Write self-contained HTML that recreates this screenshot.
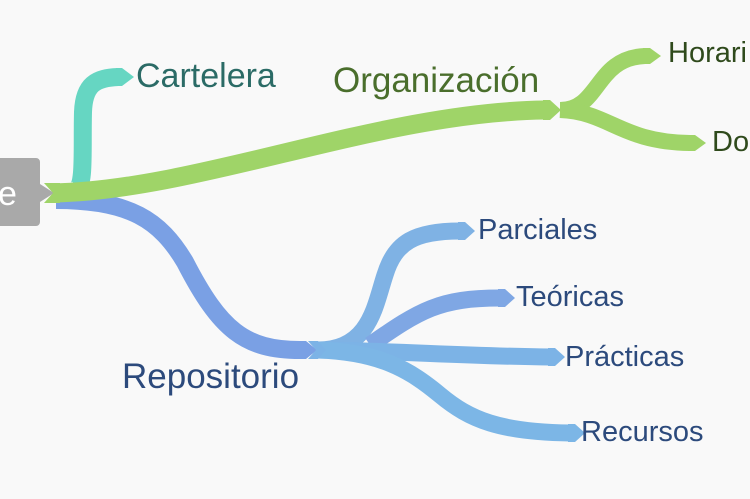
<!DOCTYPE html>
<html><head><style>
html,body{margin:0;padding:0;background:#f9f9f9;}
svg{display:block}
text{font-family:"Liberation Sans",sans-serif;}
</style></head><body>
<svg width="750" height="499" viewBox="0 0 750 499">
<rect width="750" height="499" fill="#f9f9f9"/>
<!-- root -->
<path d="M0,158 H36 a4,4 0 0 1 4,4 V184 L54,193 L40,202 V222 a4,4 0 0 1 -4,4 H0 Z" fill="#a9a9a9"/>
<text x="-2" y="205" font-size="34" fill="#fff">e</text>
<!-- Cartelera -->
<path d="M76,190 C85,186 82,150 83,112 C84,84 96,78 118,77" fill="none" stroke="#66d6c2" stroke-width="18"/>
<polygon points="116,68 122,68 134,77 122,86 116,86" fill="#66d6c2"/>
<text x="136" y="87" font-size="34" fill="#2b6b66">Cartelera</text>
<!-- Repositorio -->
<path d="M56,200 C130,200 160,220 185,262 C220,330 245,350 300,350" fill="none" stroke="#7aa0e4" stroke-width="18"/>
<polygon points="298,341 306,341 317,350 306,359 298,359" fill="#7aa0e4"/>
<text x="122" y="388" font-size="35" fill="#2c4a7c">Repositorio</text>
<!-- Organizacion -->
<path d="M54,193 C200,190 380,112 545,110" fill="none" stroke="#9fd468" stroke-width="19"/>
<polygon points="543,100 550,100 561,110 550,120 543,120" fill="#9fd468"/>
<polygon points="44,183 60,183 60,203 44,203 53,193" fill="#9fd468"/>
<text x="333" y="92" font-size="35" fill="#4a6e2c">Organización</text>
<!-- Org subs -->
<path d="M560,110 C600,110 595,58 645,56" fill="none" stroke="#9fd468" stroke-width="16"/>
<polygon points="643,48 650,48 661,56 650,64 643,64" fill="#9fd468"/>
<text x="668" y="62" font-size="29" fill="#2f4a1c">Horari</text>
<path d="M560,110 C610,112 620,142 690,143" fill="none" stroke="#9fd468" stroke-width="16"/>
<polygon points="688,135 695,135 706,143 695,151 688,151" fill="#9fd468"/>
<text x="712" y="151" font-size="29" fill="#2f4a1c">Do</text>
<!-- Repo subs -->
<g fill="none" stroke-width="17">
<path d="M318,350 C370,350 375,305 385,275 C395,242 415,231 460,231" stroke="#7fb2e4"/>
<path d="M370,345 C420,310 440,298 500,298" stroke="#7fa7e4"/>
<path d="M318,350 C400,351 460,356 550,357" stroke="#7cb3e6"/>
<path d="M318,350 C380,352 410,370 440,395 C470,420 500,432 570,433" stroke="#7cb6e6"/>
</g>
<polygon points="458,222 465,222 475,231 465,240 458,240" fill="#7fb2e4"/>
<polygon points="498,289 505,289 515,298 505,307 498,307" fill="#7fa7e4"/>
<polygon points="548,348 555,348 565,357 555,366 548,366" fill="#7cb3e6"/>
<polygon points="568,424 575,424 585,433 575,442 568,442" fill="#7cb6e6"/>
<polygon points="308,341 318,341 326,350 318,359 308,359 316,350" fill="#7cb3e6"/>
<g font-size="29" fill="#2c4a7c">
<text x="478" y="239">Parciales</text>
<text x="516" y="306">Teóricas</text>
<text x="565" y="366">Prácticas</text>
<text x="581" y="441">Recursos</text>
</g>
</svg>
</body></html>
